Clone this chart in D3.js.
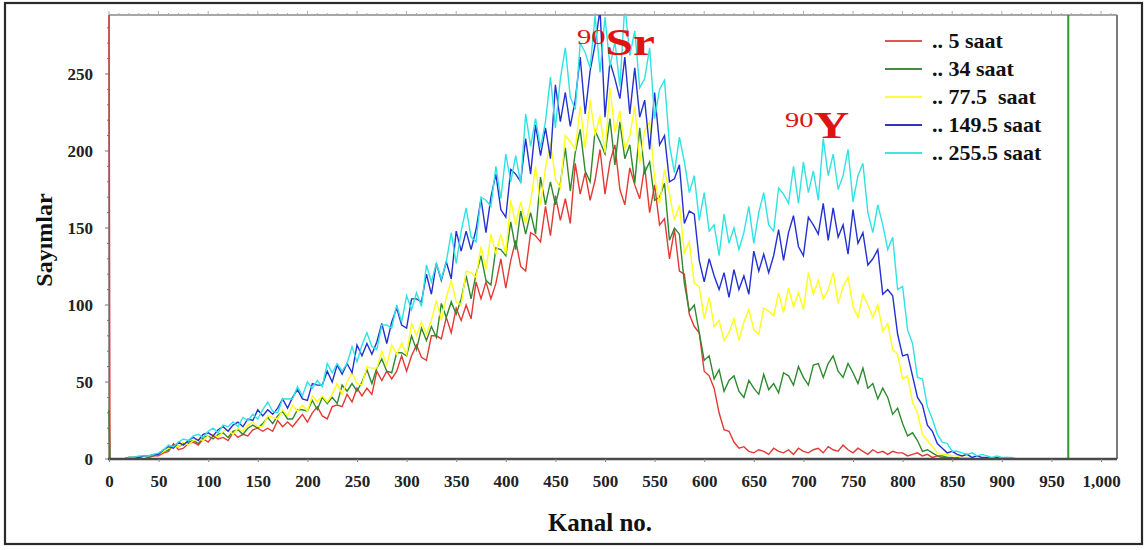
<!DOCTYPE html>
<html><head><meta charset="utf-8">
<script src="https://cdn.jsdelivr.net/npm/d3@7"></script>
<style>body{margin:0;background:#fff;} svg{display:block}</style>
</head><body><svg id="c" width="1148" height="550"></svg>
<script>
// ---------- data ----------
// channel numbers (Kanal no.): 0, 1, then every 5th channel up to 920
const channels = [0, 1].concat(d3.range(5, 925, 5));
const seriesNames = [".. 5 saat", ".. 34 saat", ".. 77.5  saat", ".. 149.5 saat", ".. 255.5 saat"];
const seriesColors = ["#e23a34", "#2f8a2f", "#ffff1a", "#2330d2", "#2fe3e3"];
const legendColors = ["#e05555", "#3d8f3d", "#ffff40", "#3535c0", "#48e2e2"];

const counts5 = [
 300,0,
 0,0,0,0,1,1,0,1,2,
 2,4,5,10,6,7,10,11,9,13,
 11,15,13,14,12,17,14,16,15,19,
 20,18,20,18,25,21,24,21,25,29,
 24,30,34,28,26,34,35,34,42,37,
 46,41,46,42,57,51,57,52,57,67,
 57,67,74,66,64,80,80,78,92,82,
 98,90,100,91,115,104,115,104,114,130,
 111,129,142,125,122,147,145,141,164,145,
 171,155,169,153,192,172,186,168,181,201,
 172,193,204,175,165,189,178,169,190,160,
 178,152,156,130,149,122,120,94,86,82,
 57,54,46,30,19,18,11,7,8,5,
 4,6,5,3,7,5,4,6,3,7,
 5,4,6,7,4,8,6,5,9,6,
 4,7,5,3,6,4,5,3,5,4,
 4,2,3,4,2,3,1,2,1,1,
 0,1,0,0,0,0,0,0,0,0,
 0,0,0,0,0];
const counts34 = [
 32,0,
 0,0,0,1,1,1,2,2,2,
 3,5,6,9,8,10,11,12,10,14,
 15,13,16,17,14,18,19,16,20,22,
 20,23,27,23,28,31,26,26,32,32,
 31,38,32,40,36,40,36,48,44,49,
 44,50,58,49,59,65,57,56,69,69,
 67,80,71,85,77,86,79,101,92,102,
 94,104,119,104,120,132,116,113,137,136,
 132,154,136,161,146,160,146,183,165,180,
 165,179,202,174,199,214,187,180,213,206,
 198,221,191,219,195,204,179,215,186,193,
 168,170,179,142,150,146,114,96,100,82,
 64,67,52,58,44,51,54,44,40,51,
 46,42,55,45,49,43,56,54,48,60,
 53,48,61,62,53,62,67,57,53,62,
 56,49,59,46,49,39,46,40,29,33,
 23,15,17,12,5,6,4,2,2,1,
 1,0,0,0,0,0,0,0,0,0,
 0,0,0,0,0];
const counts77 = [
 0,0,
 0,0,0,1,1,1,2,2,3,
 3,5,7,8,8,11,9,12,13,12,
 15,16,14,18,19,16,20,18,22,24,
 21,21,28,27,26,32,28,35,31,35,
 31,41,37,41,37,42,49,42,50,56,
 49,48,60,59,59,70,61,74,68,75,
 68,88,80,89,81,90,103,90,105,116,
 102,100,122,121,118,138,123,146,133,146,
 133,168,152,167,153,167,190,165,189,206,
 182,176,210,206,201,229,202,233,210,223,
 199,241,212,226,201,210,229,192,213,219,
 182,166,188,172,155,165,134,141,114,112,
 91,105,86,90,77,82,91,77,89,97,
 84,81,98,96,93,108,95,111,99,108,
 97,121,107,116,104,110,121,101,112,118,
 99,92,107,100,92,100,83,88,71,68,
 52,54,37,30,16,12,8,4,3,3,
 2,2,1,1,0,0,0,0,0,0,
 0,0,0,0,0];
const counts149 = [
 0,0,
 0,0,0,1,1,1,2,2,3,
 3,6,8,7,11,9,12,14,12,16,
 17,15,19,21,18,22,24,21,26,25,
 32,28,32,29,33,39,33,40,45,39,
 38,49,48,48,57,50,61,55,62,56,
 74,67,75,68,76,88,75,89,98,87,
 85,104,104,102,120,107,127,116,128,117,
 148,135,148,136,149,169,147,170,185,162,
 157,188,185,180,208,185,217,197,215,195,
 243,219,238,216,233,261,224,252,269,292,
 222,258,247,234,261,224,254,222,233,201,
 238,204,210,180,182,191,153,161,159,129,
 115,130,119,110,121,105,123,110,119,107,
 135,122,133,121,132,149,129,147,158,138,
 132,157,152,146,166,142,163,144,152,133,
 162,140,147,126,130,136,107,110,106,81,
 67,68,54,40,35,22,18,10,7,4,
 5,3,2,3,1,2,1,1,0,1,
 0,1,0,0,0];
const counts255 = [
 0,0,
 0,0,0,1,1,2,2,2,3,
 4,6,9,8,11,13,12,15,16,14,
 18,20,17,22,21,24,21,27,25,29,
 26,32,37,31,30,39,39,39,47,41,
 50,46,51,47,62,56,62,57,62,73,
 63,74,82,73,71,87,87,85,100,89,
 106,97,108,99,126,115,127,117,128,147,
 127,148,163,144,141,170,168,164,190,169,
 198,180,197,179,224,203,221,202,219,248,
 215,247,267,235,227,270,264,254,288,251,
 287,255,271,242,295,262,278,241,247,267,
 221,240,246,204,186,209,193,173,184,155,
 173,148,152,132,159,140,150,136,147,164,
 140,160,173,152,148,176,172,166,190,166,
 193,173,187,168,208,184,198,175,184,201,
 167,184,192,160,147,165,152,136,144,110,
 112,84,75,53,52,34,26,16,11,10,
 5,5,4,3,4,2,3,2,1,2,
 1,1,1,0,0];

const xTicks = d3.range(0, 1001, 50);
const yTicks = [0, 50, 100, 150, 200, 250];
const markerChannel = 967;
const xLabel = "Kanal no.";
const yLabel = "Sayımlar";

// ---------- drawing ----------
const svg = d3.select("#c");
const serif = "'Liberation Serif','Times New Roman',serif";
const L = 109, R = 1117, T = 15, B = 459;
const x = d3.scaleLinear().domain([0, 1000]).range([L, 1101]);
const y = d3.scaleLinear().domain([0, 250]).range([B, 74]);

// outer frame
svg.append("rect").attr("x", 5).attr("y", 3).attr("width", 1137).attr("height", 541)
  .attr("fill", "#fff").attr("stroke", "#2a2a2a").attr("stroke-width", 2.2);

svg.append("defs").append("clipPath").attr("id", "clip")
  .append("rect").attr("x", L - 2).attr("y", T).attr("width", R - L + 2).attr("height", B - T);

// top & right frame of plot
svg.append("line").attr("x1", L).attr("x2", R).attr("y1", T).attr("y2", T)
  .attr("stroke", "#8a8a8a").attr("stroke-width", 1.5);
svg.append("line").attr("x1", R).attr("x2", R).attr("y1", T).attr("y2", B)
  .attr("stroke", "#7a7a7a").attr("stroke-width", 2);
svg.append("g").selectAll("line").data(d3.range(0, 1011, 10)).join("line")
  .attr("x1", d => x(d)).attr("x2", d => x(d))
  .attr("y1", T).attr("y2", d => d % 50 === 0 ? T - 4 : T - 2)
  .attr("stroke", "#aaa").attr("stroke-width", 1);

// left axis line + minor ticks
svg.append("line").attr("x1", L).attr("x2", L).attr("y1", T).attr("y2", B)
  .attr("stroke", "#777").attr("stroke-width", 1.5);
svg.append("g").selectAll("line").data(d3.range(0, 281, 10)).join("line")
  .attr("x1", L).attr("x2", d => d % 50 === 0 ? L - 4 : L - 2)
  .attr("y1", d => y(d)).attr("y2", d => y(d))
  .attr("stroke", "#777").attr("stroke-width", 1);

// series
const allSeries = [counts5, counts34, counts77, counts149, counts255];
const line = d3.line().x(d => x(d[0])).y(d => y(d[1]));
const gLines = svg.append("g").attr("clip-path", "url(#clip)");
allSeries.forEach((vals, i) => {
  const pts = vals.slice(0, channels.length).map((v, j) => [channels[j], v]);
  gLines.append("path").datum(pts).attr("d", line)
    .attr("fill", "none").attr("stroke", seriesColors[i])
    .attr("stroke-width", 1.4).attr("stroke-linejoin", "miter");
});

// marker line
svg.append("line").attr("x1", x(markerChannel)).attr("x2", x(markerChannel))
  .attr("y1", T).attr("y2", B).attr("stroke", "#2e9a2e").attr("stroke-width", 2);

// bottom axis line
svg.append("line").attr("x1", L - 1).attr("x2", R).attr("y1", B).attr("y2", B)
  .attr("stroke", "#4a4a4a").attr("stroke-width", 2.5);

// bottom axis
const xAxis = svg.append("g").attr("transform", `translate(0,${B})`)
  .call(d3.axisBottom(x).tickValues(xTicks).tickSize(3).tickPadding(13).tickFormat(d3.format(",")));
xAxis.select(".domain").remove();
xAxis.selectAll("line").attr("stroke", "#888");
xAxis.selectAll("text").attr("font-family", serif).attr("font-weight", "bold")
  .attr("font-size", 17).attr("fill", "#222");

// left axis
const yAxis = svg.append("g").attr("transform", `translate(${L},0)`)
  .call(d3.axisLeft(y).tickValues(yTicks).tickSize(0).tickPadding(16));
yAxis.select(".domain").remove();
yAxis.selectAll("text").attr("font-family", serif).attr("font-weight", "bold")
  .attr("font-size", 17).attr("fill", "#222");

// axis titles
svg.append("text").attr("x", 600).attr("y", 531).attr("text-anchor", "middle")
  .attr("font-family", serif).attr("font-weight", "bold").attr("font-size", 25)
  .attr("fill", "#111").text(xLabel);
svg.append("text").attr("transform", "translate(52,240) rotate(-90)").attr("text-anchor", "middle")
  .attr("font-family", serif).attr("font-weight", "bold").attr("font-size", 24)
  .attr("fill", "#111").text(yLabel);

// annotations (isotope labels)
function iso(px, py, mass, sym) {
  const g = svg.append("g").attr("transform", `translate(${px},${py}) scale(1.3,1)`);
  const t = g.append("text").attr("x", 0).attr("y", 0)
    .attr("font-family", serif).attr("fill", "#e01212");
  t.append("tspan").attr("font-size", 22).attr("dy", -11).text(mass);
  t.append("tspan").attr("font-size", 38).attr("font-weight", "bold").attr("dy", 11).text(sym);
}
iso(577, 55, "90", "Sr");
iso(785, 138, "90", "Y");

// legend
const lg = svg.append("g");
seriesNames.forEach((n, i) => {
  const ly = 41 + i * 28;
  lg.append("line").attr("x1", 885).attr("x2", 922).attr("y1", ly).attr("y2", ly)
    .attr("stroke", legendColors[i]).attr("stroke-width", 2.2);
  lg.append("text").attr("x", 932).attr("y", ly).attr("dy", "0.32em")
    .attr("font-family", serif).attr("font-weight", "bold").attr("font-size", 22)
    .attr("fill", "#111").style("white-space", "pre").text(n);
});
</script>
</body></html>
